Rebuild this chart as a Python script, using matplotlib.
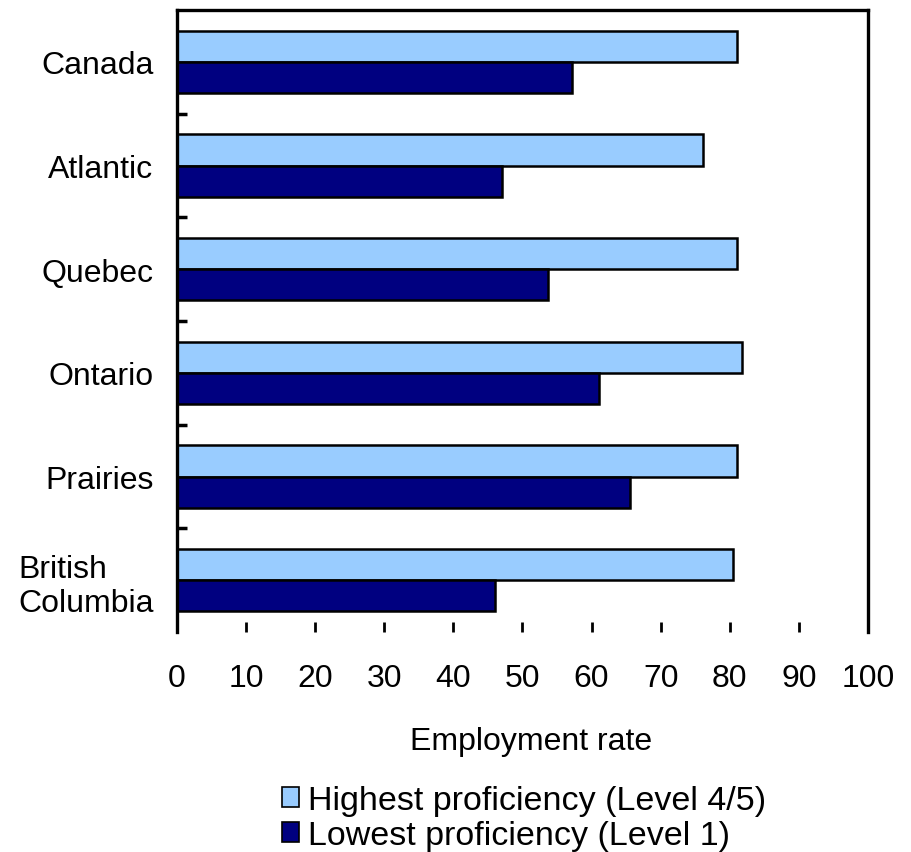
import matplotlib
matplotlib.use("Agg")
import matplotlib.pyplot as plt
import numpy as np
from matplotlib.patches import Patch

plt.rcParams['font.family'] = ['Liberation Sans', 'DejaVu Sans']

regions = ["Canada", "Atlantic", "Quebec", "Ontario", "Prairies", "British\nColumbia"]
highest = [81.0, 76.1, 81.0, 81.8, 81.0, 80.5]
lowest = [57.2, 47.0, 53.7, 61.1, 65.6, 46.0]
xticks = [0, 10, 20, 30, 40, 50, 60, 70, 80, 90, 100]
series_labels = ["Highest proficiency (Level 4/5)", "Lowest proficiency (Level 1)"]
light_blue = "#99CCFF"
navy = "#000080"

fig = plt.figure(figsize=(9.12, 8.53), dpi=100)
ax = fig.add_axes([177/912, 1 - 633/853, (868 - 177)/912, (633 - 11)/853])

y = np.arange(len(regions))
h = 0.3
ax.barh(y - h/2, highest, height=h, color=light_blue, edgecolor="black", linewidth=1.8)
ax.barh(y + h/2, lowest, height=h, color=navy, edgecolor="black", linewidth=1.8)

ax.set_xlim(0, 100)
ax.set_ylim(len(regions) - 0.5, -0.5)

ax.set_xticks(xticks)
ax.set_xticklabels([str(v) for v in xticks], fontsize=23)
ax.tick_params(axis="x", direction="in", length=7, width=2, pad=22)

ax.set_yticks(y)
ax.set_yticklabels(regions, fontsize=23)
for lbl in ax.get_yticklabels():
    lbl.set_multialignment("left")
ax.tick_params(axis="y", which="major", length=0, pad=17)
ax.set_yticks(np.arange(0.5, len(regions) - 0.5, 1.0), minor=True)
ax.tick_params(axis="y", which="minor", direction="in", length=7, width=2.5)

ax.spines["bottom"].set_visible(False)
for s in ["top", "left", "right"]:
    ax.spines[s].set_linewidth(2.4)

ax.set_xlabel("Employment rate", fontsize=23, labelpad=24)
ax.xaxis.label.set_x(0.512)

handles = [Patch(facecolor=light_blue, edgecolor="black", linewidth=1.2),
           Patch(facecolor=navy, edgecolor="black", linewidth=1.2)]
fig.legend(handles, series_labels, loc="upper left",
           bbox_to_anchor=(282/912, 1 - 786/853), frameon=False,
           fontsize=24.5, handlelength=0.5, handleheight=0.5,
           handletextpad=0.25, labelspacing=0.12, borderpad=0, borderaxespad=0)

fig.savefig("out.png", dpi=100)
